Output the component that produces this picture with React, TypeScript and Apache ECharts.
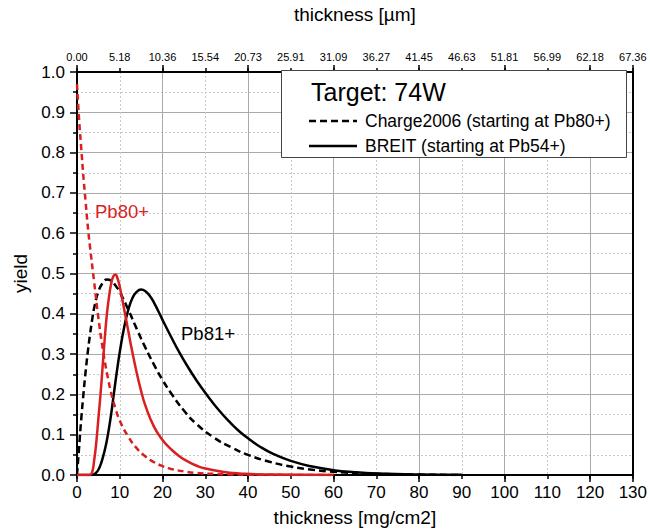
import React, { useEffect, useRef } from "react";
import * as echarts from "echarts";

// ---- data ----
const topTickLabels = ["0.00", "5.18", "10.36", "15.54", "20.73", "25.91", "31.09", "36.27", "41.45", "46.63", "51.81", "56.99", "62.18", "67.36"];

const chargePb80X = [0, 0.5, 1, 1.5, 2, 2.5, 3, 4, 5, 6, 7, 8, 9, 10, 12, 14, 16, 18, 20, 22, 25, 28, 32, 36, 40, 50, 60];
const chargePb80Y = [0.97, 0.88, 0.81, 0.74, 0.68, 0.62, 0.57, 0.48, 0.39, 0.315, 0.253, 0.203, 0.165, 0.135, 0.095, 0.066, 0.046, 0.032, 0.022, 0.015, 0.009, 0.005, 0.0028, 0.0015, 0.0008, 0.0002, 0];

const breitPb80X = [0, 3, 3.5, 4, 4.5, 5, 5.5, 6, 6.5, 7, 7.5, 8, 8.5, 9, 9.5, 10, 11, 12, 13, 14, 15, 16, 18, 20, 22, 24, 26, 28, 30, 34, 38, 45, 60];
const breitPb80Y = [0, 0, 0.005, 0.035, 0.08, 0.14, 0.2, 0.27, 0.34, 0.4, 0.443, 0.475, 0.493, 0.497, 0.487, 0.467, 0.413, 0.357, 0.302, 0.252, 0.208, 0.172, 0.12, 0.087, 0.064, 0.046, 0.033, 0.023, 0.016, 0.008, 0.004, 0.001, 0];

const chargePb81X = [0, 0.5, 1, 1.5, 2, 2.5, 3, 3.5, 4, 5, 6, 7, 8, 9, 10, 12, 14, 16, 18, 20, 22, 25, 28, 32, 36, 40, 45, 50, 55, 60, 70, 80, 90];
const chargePb81Y = [0, 0.07, 0.14, 0.2, 0.255, 0.303, 0.345, 0.382, 0.414, 0.455, 0.476, 0.485, 0.482, 0.47, 0.454, 0.41, 0.362, 0.316, 0.274, 0.236, 0.203, 0.16, 0.126, 0.093, 0.069, 0.05, 0.033, 0.021, 0.013, 0.008, 0.003, 0.001, 0];

const breitPb81X = [0, 3.5, 4, 4.5, 5, 5.5, 6, 6.5, 7, 7.5, 8, 8.5, 9, 9.5, 10, 11, 12, 13, 14, 15, 16, 17, 18, 19, 20, 22, 24, 26, 28, 30, 33, 36, 38, 40, 43, 46, 50, 55, 60, 65, 70, 80, 90];
const breitPb81Y = [0, 0, 0.002, 0.006, 0.013, 0.025, 0.042, 0.062, 0.087, 0.117, 0.152, 0.192, 0.232, 0.27, 0.305, 0.365, 0.41, 0.44, 0.455, 0.46, 0.456, 0.445, 0.428, 0.407, 0.385, 0.343, 0.303, 0.267, 0.234, 0.204, 0.163, 0.128, 0.108, 0.091, 0.069, 0.052, 0.035, 0.021, 0.012, 0.007, 0.004, 0.0013, 0.0004];

const legendTitle = "Target: 74W";
const legendDashed = "Charge2006 (starting at Pb80+)";
const legendSolid = "BREIT (starting at Pb54+)";
const labelPb80 = "Pb80+";
const labelPb81 = "Pb81+";

const FONT = "'Liberation Sans', Arial, sans-serif";
const RED = "#d91f1f";

const pairs = (xs: number[], ys: number[]) => xs.map((x, i) => [x, ys[i]]);

export default function App() {
  const ref = useRef<HTMLDivElement>(null);
  useEffect(() => {
    if (!ref.current) return;
    const chart = echarts.init(ref.current, null, { renderer: "svg" });
    const baseX = {
      type: "value" as const,
      min: 0,
      max: 130,
    };
    const lineCommon = {
      type: "line" as const,
      showSymbol: false,
      smooth: 0.5,
    };
    chart.setOption({
      animation: false,
      backgroundColor: "#fff",
      textStyle: { fontFamily: FONT },
      grid: { left: 77, right: 17, top: 65, bottom: 54 },
      xAxis: [
        {
          ...baseX,
          position: "bottom",
          interval: 10,
          axisLine: { show: true, onZero: false, lineStyle: { color: "#000", width: 2 } },
          axisTick: { show: true, length: 4, lineStyle: { color: "#000", width: 1.5 } },
          axisLabel: { color: "#000", fontSize: 17, margin: 9, fontFamily: FONT },
          splitLine: { show: true, lineStyle: { color: "#c8c8c8", width: 1, type: [2, 2] } },
          name: "thickness [mg/cm2]",
          nameLocation: "middle",
          nameGap: 33,
          nameTextStyle: { color: "#000", fontSize: 19, fontFamily: FONT },
        },
        {
          ...baseX,
          position: "bottom",
          interval: 20,
          axisLine: { show: false, onZero: false },
          axisTick: { show: true, length: 7, lineStyle: { color: "#000", width: 1.5 } },
          axisLabel: { show: false },
          splitLine: { show: true, lineStyle: { color: "#aaaaaa", width: 1 } },
        },
        {
          ...baseX,
          position: "top",
          interval: 10,
          axisLine: { show: true, onZero: false, lineStyle: { color: "#000", width: 2 } },
          axisTick: { show: true, length: 4, lineStyle: { color: "#000", width: 1.5 } },
          axisLabel: {
            color: "#000",
            fontSize: 11,
            margin: 10,
            fontFamily: FONT,
            formatter: (v: number) => topTickLabels[Math.round(v / 10)] ?? "",
          },
          splitLine: { show: false },
          name: "thickness [µm]",
          nameLocation: "middle",
          nameGap: 48,
          nameTextStyle: { color: "#000", fontSize: 19, fontFamily: FONT },
        },
        {
          ...baseX,
          position: "top",
          interval: 20,
          axisLine: { show: false, onZero: false },
          axisTick: { show: true, length: 7, lineStyle: { color: "#000", width: 1.5 } },
          axisLabel: { show: false },
          splitLine: { show: false },
        },
      ],
      yAxis: [
        {
          type: "value",
          position: "left",
          min: 0,
          max: 1,
          interval: 0.1,
          axisLine: { show: true, onZero: false, lineStyle: { color: "#000", width: 2 } },
          axisTick: { show: true, length: 7, lineStyle: { color: "#000", width: 1.5 } },
          minorTick: { show: true, splitNumber: 2, length: 4, lineStyle: { color: "#000", width: 1.5 } },
          axisLabel: {
            color: "#000",
            fontSize: 17,
            margin: 12,
            fontFamily: FONT,
            formatter: (v: number) => v.toFixed(1),
          },
          splitLine: { show: true, lineStyle: { color: "#aaaaaa", width: 1 } },
          minorSplitLine: { show: true, lineStyle: { color: "#c8c8c8", width: 1, type: [2, 2] } },
          name: "yield",
          nameLocation: "middle",
          nameGap: 47,
          nameRotate: 90,
          nameTextStyle: { color: "#000", fontSize: 19, fontFamily: FONT },
        },
        {
          type: "value",
          position: "right",
          min: 0,
          max: 1,
          interval: 0.1,
          axisLine: { show: true, onZero: false, lineStyle: { color: "#000", width: 2 } },
          axisTick: { show: false },
          axisLabel: { show: false },
          splitLine: { show: false },
        },
      ],
      series: [
        {
          ...lineCommon,
          name: "Charge2006 Pb81+",
          data: pairs(chargePb81X, chargePb81Y),
          lineStyle: { color: "#000", width: 2.5, type: [7, 4] },
          z: 3,
        },
        {
          ...lineCommon,
          name: "BREIT Pb81+",
          data: pairs(breitPb81X, breitPb81Y),
          lineStyle: { color: "#000", width: 2.5 },
          z: 3,
        },
        {
          ...lineCommon,
          name: "Charge2006 Pb80+",
          data: pairs(chargePb80X, chargePb80Y),
          lineStyle: { color: RED, width: 2.5, type: [6, 4] },
          z: 4,
        },
        {
          ...lineCommon,
          name: "BREIT Pb80+",
          data: pairs(breitPb80X, breitPb80Y),
          lineStyle: { color: RED, width: 2.5 },
          z: 4,
        },
      ],
      graphic: [
        {
          type: "rect",
          shape: { x: 281.5, y: 70.5, width: 345, height: 87 },
          style: { fill: "#fff", stroke: "#444", lineWidth: 1 },
          z: 100,
        },
        {
          type: "text",
          x: 311,
          y: 92,
          style: { text: legendTitle, fontSize: 25, fontFamily: FONT, fill: "#000", verticalAlign: "middle" },
          z: 101,
        },
        {
          type: "line",
          shape: { x1: 309, y1: 121, x2: 357, y2: 121 },
          style: { stroke: "#000", lineWidth: 2.5, lineDash: [7, 4] },
          z: 101,
        },
        {
          type: "text",
          x: 365,
          y: 121,
          style: { text: legendDashed, fontSize: 17.5, fontFamily: FONT, fill: "#000", verticalAlign: "middle" },
          z: 101,
        },
        {
          type: "line",
          shape: { x1: 309, y1: 146, x2: 357, y2: 146 },
          style: { stroke: "#000", lineWidth: 2.5 },
          z: 101,
        },
        {
          type: "text",
          x: 365,
          y: 146,
          style: { text: legendSolid, fontSize: 17.5, fontFamily: FONT, fill: "#000", verticalAlign: "middle" },
          z: 101,
        },
        {
          type: "text",
          x: 95,
          y: 211,
          style: { text: labelPb80, fontSize: 18.5, fontFamily: FONT, fill: RED, verticalAlign: "middle" },
          z: 101,
        },
        {
          type: "text",
          x: 181,
          y: 333,
          style: { text: labelPb81, fontSize: 18.5, fontFamily: FONT, fill: "#000", verticalAlign: "middle" },
          z: 101,
        },
      ],
    });
    return () => chart.dispose();
  }, []);
  return <div ref={ref} style={{ position: "fixed", left: 0, top: 0, width: 650, height: 532 }} />;
}
